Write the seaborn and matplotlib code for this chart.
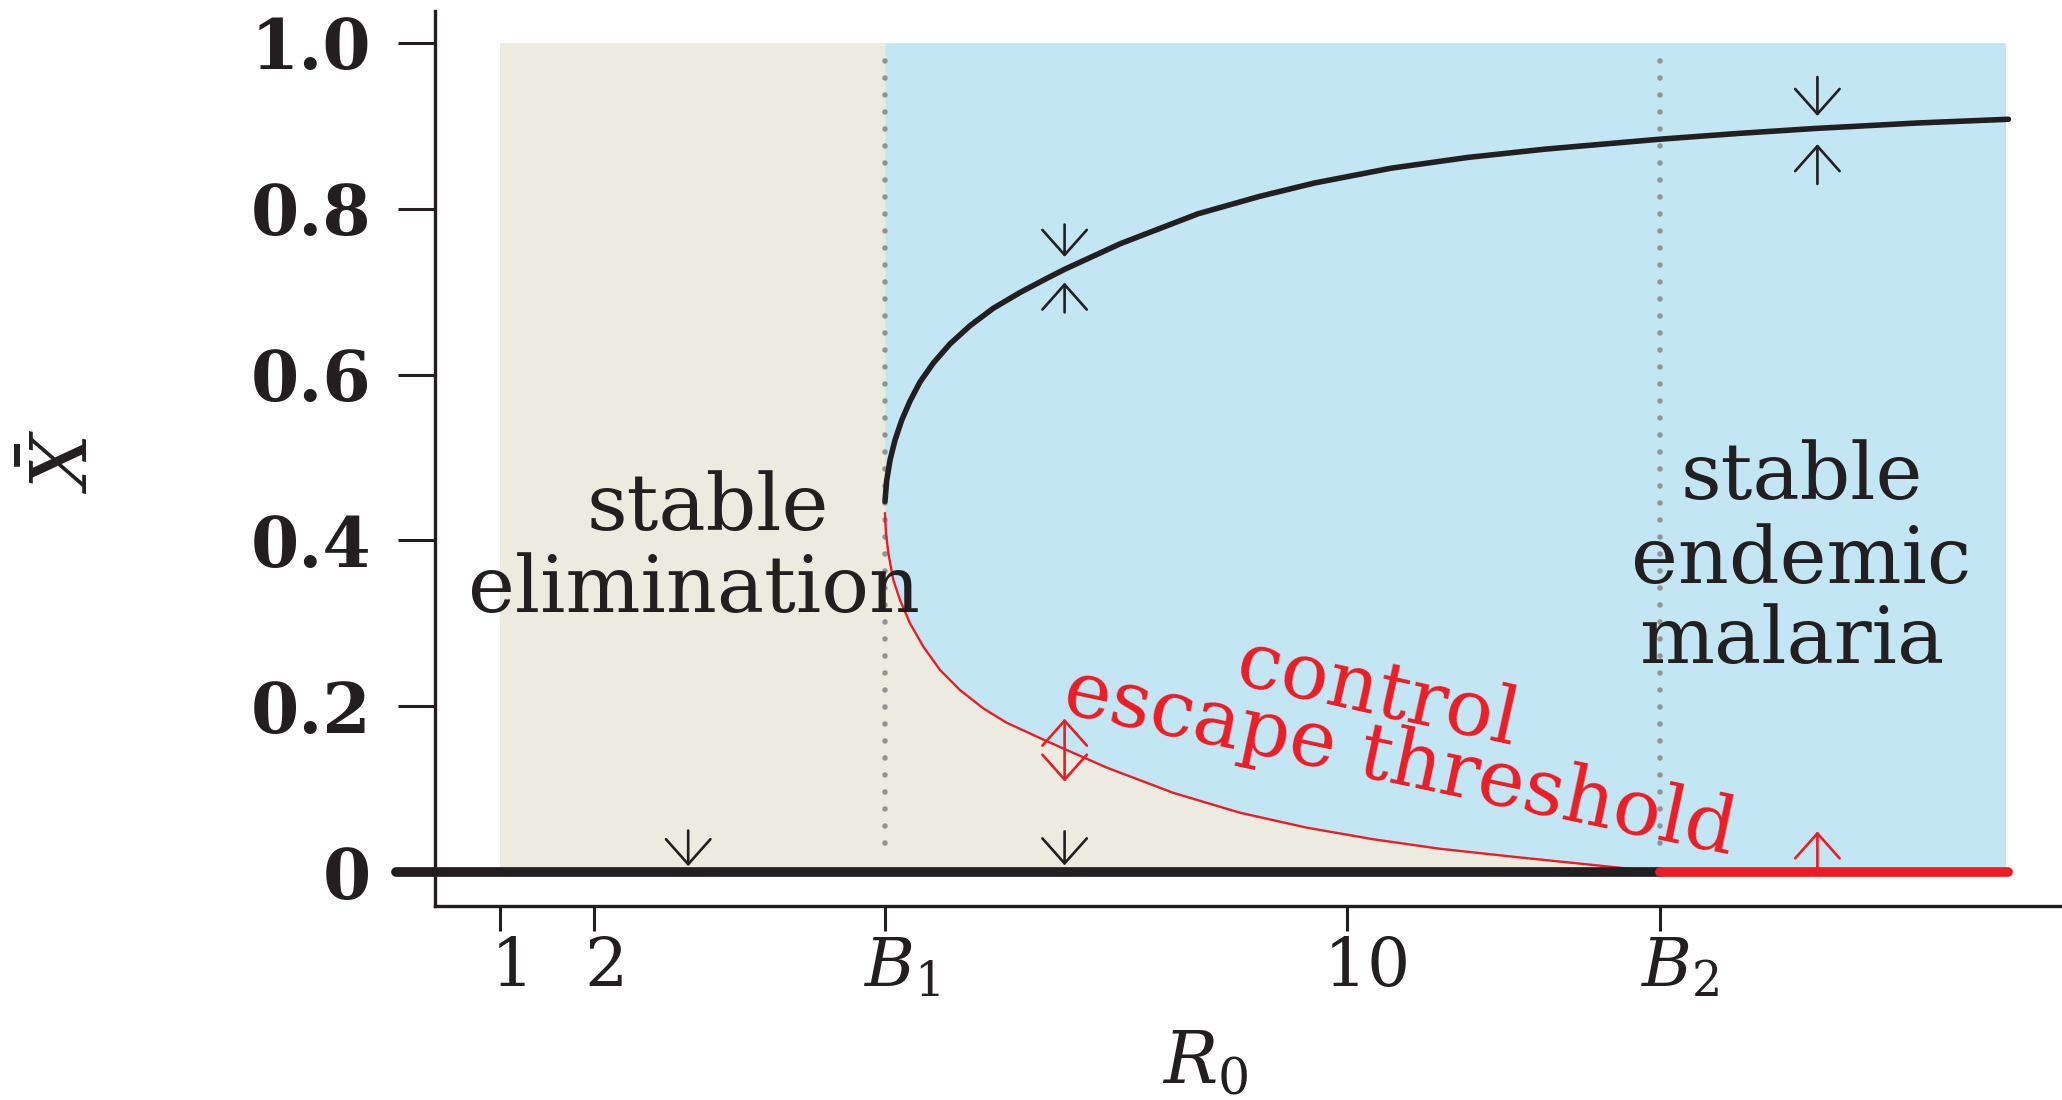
import matplotlib
matplotlib.use("Agg")
import matplotlib.pyplot as plt
import seaborn as sns
import pandas as pd
from matplotlib.patches import FancyArrowPatch
from matplotlib.transforms import ScaledTranslation

# ---------------- data ----------------
B1 = 5.09
B2 = 13.33
R0_MIN_SHADE = 1.0
R0_MAX = 17.0

# stable endemic branch (upper, black)
upper_r0 = [5.091, 5.109, 5.145, 5.198, 5.269, 5.357, 5.463, 5.605, 5.782, 5.995,
            6.242, 6.526, 6.81, 7.0, 7.594, 8.418, 9.073, 9.65, 10.47, 11.287,
            12.11, 13.33, 14.17, 14.99, 16.06, 17.03]
upper_x = [0.447, 0.472, 0.497, 0.521, 0.545, 0.568, 0.591, 0.614, 0.637, 0.659,
           0.680, 0.699, 0.716, 0.727, 0.758, 0.794, 0.815, 0.831, 0.849, 0.862,
           0.872, 0.884, 0.891, 0.897, 0.9035, 0.908]

# control escape threshold (lower, red, unstable)
lower_r0 = [5.091, 5.102, 5.127, 5.180, 5.251, 5.357, 5.499, 5.676, 5.888, 6.136, 6.385,
            6.74, 6.986, 7.447, 8.155, 8.864, 9.573, 10.28, 10.99, 11.8, 12.87, 13.33]
lower_x = [0.433, 0.4085, 0.3844, 0.3522, 0.3281, 0.300, 0.2718, 0.2437, 0.2195, 0.1974, 0.180,
           0.1615, 0.149, 0.126, 0.0955, 0.0715, 0.0535, 0.0395, 0.028, 0.018, 0.0055, 0.0]

# zero equilibrium: stable up to B2, unstable beyond
zero_stable_r0 = [-0.1, B2]
zero_unstable_r0 = [B2, 17.03]
zero_x = [0.0, 0.0]

# stability arrows (x position, start, end)
black_arrow_r0 = [3.0, 7.0, 7.0, 7.0, 15.0, 15.0]
black_arrow_from = [0.050, 0.049, 0.781, 0.675, 0.959, 0.830]
black_arrow_to = [0.007, 0.008, 0.742, 0.711, 0.912, 0.878]
red_arrow_r0 = [7.0, 7.0, 15.0]
red_arrow_from = [0.147, 0.147, 0.005]
red_arrow_to = [0.185, 0.109, 0.049]

xtick_values = [1, 2, B1, 10, B2]
xtick_labels = ["$1$", "$2$", "$B_1$", "$10$", "$B_2$"]
xtick_offsets_px = [8, 9, 16, 18, 19]
ytick_values = [0, 0.2, 0.4, 0.6, 0.8, 1.0]
ytick_labels = ["0", "0.2", "0.4", "0.6", "0.8", "1.0"]

# ---------------- style ----------------
sns.set_theme(style="ticks")
plt.rcParams["font.family"] = ["DejaVu Serif"]
plt.rcParams["mathtext.fontset"] = "dejavuserif"

BLACK = "#231F20"
RED = "#ED1C24"
TAN = "#EDEBDF"
BLUE = "#C3E6F5"
GRAY = "#939393"

W, H = 2062, 1100
fig = plt.figure(figsize=(W / 100, H / 100), dpi=100)

xlim = (-0.12, 17.6)
ylim = (-0.041, 1.038)
px_left = 500 + (xlim[0] - 1) * 94.1
px_right = 500 + (xlim[1] - 1) * 94.1
py_bottom = 872 - ylim[0] * 829
py_top = 872 - ylim[1] * 829
ax = fig.add_axes([px_left / W, 1 - py_bottom / H,
                   (px_right - px_left) / W, (py_bottom - py_top) / H])
ax.set_xlim(*xlim)
ax.set_ylim(*ylim)

# shaded regions
ax.fill_between([R0_MIN_SHADE, R0_MAX], [0, 0], [1, 1], color=TAN, lw=0, zorder=0)
ax.fill_between(lower_r0 + [R0_MAX], lower_x + [0.0], 1.0, color=BLUE, lw=0, zorder=1)

# dotted bifurcation lines
for b in (B1, B2):
    ax.plot([b, b], [0.035, 0.98], color=GRAY, lw=4.0,
            linestyle=(0, (0.01, 3.05)), dash_capstyle="round", zorder=2)

# curves
df_up = pd.DataFrame({"R0": upper_r0, "X": upper_x})
df_lo = pd.DataFrame({"R0": lower_r0, "X": lower_x})
sns.lineplot(data=df_up, x="R0", y="X", ax=ax, color=BLACK, lw=4.0, sort=False,
             estimator=None, solid_capstyle="round", solid_joinstyle="round", zorder=5)
sns.lineplot(data=df_lo, x="R0", y="X", ax=ax, color=RED, lw=1.7, sort=False,
             estimator=None, solid_joinstyle="round", zorder=5)
sns.lineplot(x=zero_stable_r0, y=zero_x, ax=ax, color=BLACK, lw=7.0, sort=False,
             estimator=None, solid_capstyle="round", zorder=6)
sns.lineplot(x=zero_unstable_r0, y=zero_x, ax=ax, color=RED, lw=7.0, sort=False,
             estimator=None, solid_capstyle="round", zorder=6)
for ln in ax.lines:
    ln.set_clip_on(False)


def arrow(x, y0, y1, color):
    p = FancyArrowPatch((x, y0), (x, y1), arrowstyle="->,head_length=18,head_width=16",
                        mutation_scale=1, color=color, lw=1.9, shrinkA=0, shrinkB=0,
                        zorder=7)
    ax.add_patch(p)


for x, a, b in zip(black_arrow_r0, black_arrow_from, black_arrow_to):
    arrow(x, a, b, BLACK)
for x, a, b in zip(red_arrow_r0, red_arrow_from, red_arrow_to):
    arrow(x, a, b, RED)

# annotations
TXT = 57
ax.text(3.21, 0.4125, "stable", ha="center", va="baseline", fontsize=TXT, color=BLACK, zorder=8)
ax.text(3.06, 0.3136, "elimination", ha="center", va="baseline", fontsize=TXT, color=BLACK, zorder=8)
ax.text(14.83, 0.450, "stable", ha="center", va="baseline", fontsize=TXT, color=BLACK, zorder=8)
ax.text(14.83, 0.349, "endemic", ha="center", va="baseline", fontsize=TXT, color=BLACK, zorder=8)
ax.text(14.73, 0.252, "malaria", ha="center", va="baseline", fontsize=TXT, color=BLACK, zorder=8)
ax.text(10.27, 0.190, "control", ha="center", va="baseline", fontsize=TXT, color=RED,
        rotation=-12.5, rotation_mode="anchor", zorder=8)
ax.text(10.51, 0.107, "escape threshold", ha="center", va="baseline", fontsize=TXT, color=RED,
        rotation=-12.0, rotation_mode="anchor", zorder=8)

# axes / spines
for s in ("top", "right"):
    ax.spines[s].set_visible(False)
ax.spines["left"].set_position(("data", 0.31))
ax.spines["bottom"].set_bounds(0.31, xlim[1])
for s in ("left", "bottom"):
    ax.spines[s].set_linewidth(2.4)
    ax.spines[s].set_color(BLACK)

ax.set_xticks(xtick_values)
ax.set_xticklabels(xtick_labels)
ax.set_yticks(ytick_values)
ax.set_yticklabels(ytick_labels, fontweight="bold")
ax.tick_params(axis="x", length=18, width=2.2, pad=3, labelsize=49, colors=BLACK, direction="out")
ax.tick_params(axis="y", length=27, width=2.2, pad=19, labelsize=50, colors=BLACK, direction="out")
for lab, off in zip(ax.get_xticklabels(), xtick_offsets_px):
    lab.set_transform(lab.get_transform() + ScaledTranslation(off / 100, 0, fig.dpi_scale_trans))

ax.set_xlabel("$R_0$", fontsize=52, color=BLACK)
ax.xaxis.set_label_coords((1205 - px_left) / (px_right - px_left), (py_bottom - 1028) / (py_bottom - py_top))
ax.set_ylabel(r"$\bar{X}$", fontsize=56, color=BLACK, rotation=90, ha="center", va="center")
ax.yaxis.set_label_coords((66 - px_left) / (px_right - px_left), (py_bottom - 462) / (py_bottom - py_top))

fig.savefig("out.png", dpi=100)
